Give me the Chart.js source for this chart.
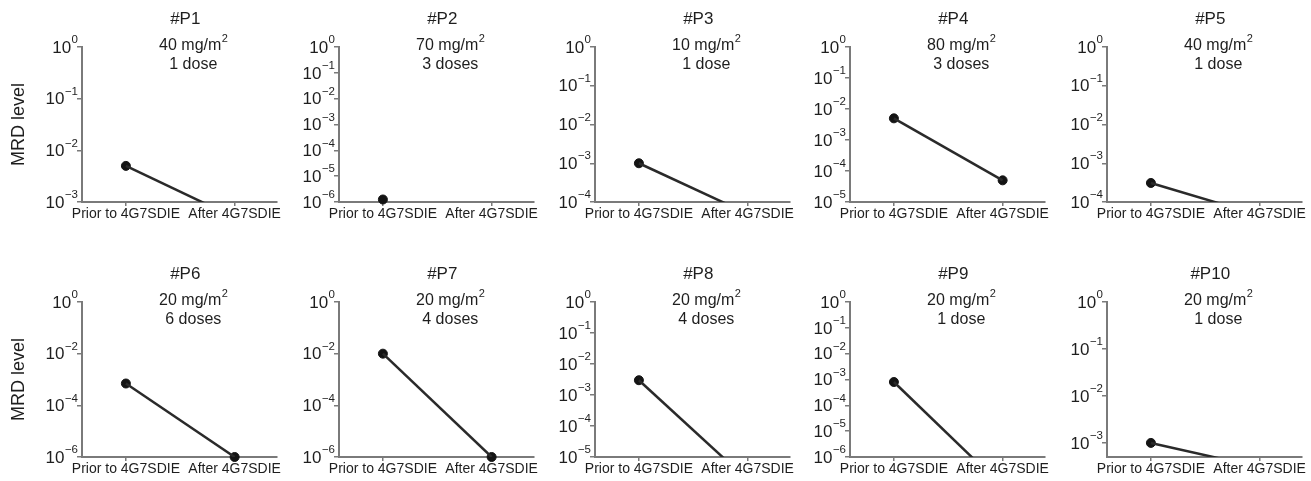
<!DOCTYPE html>
<html>
<head>
<meta charset="utf-8">
<script src="https://cdn.jsdelivr.net/npm/chart.js@4"></script>
<style>
  html, body { margin: 0; padding: 0; background: #fff; }
  #wrap { position: relative; width: 1311px; height: 481px; overflow: hidden; }
  #wrap canvas { position: absolute; }
</style>
</head>
<body>
<div id="wrap"></div>
<script>
// patients and doses
const PATIENTS = ['#P1', '#P2', '#P3', '#P4', '#P5', '#P6', '#P7', '#P8', '#P9', '#P10'];
const DOSE_MG = [40, 70, 10, 80, 40, 20, 20, 20, 20, 20];
const DOSE_COUNT = ['1 dose', '3 doses', '1 dose', '3 doses', '1 dose', '6 doses', '4 doses', '4 doses', '1 dose', '1 dose'];
const TIMEPOINTS = ['Prior to 4G7SDIE', 'After 4G7SDIE'];

// MRD levels (values below the axis are only seen as a clipped line)
const MRD_PRIOR = [5e-3, 1.25e-6, 1e-3, 5e-3, 3.1e-4, 7e-4, 1e-2, 3e-3, 8e-4, 1e-3];
const MRD_AFTER = [5e-4, null, 5e-5, 5e-5, 4.5e-5, 1e-6, 1e-6, 1.8e-6, 7e-8, 3e-4];

// y axis range per panel: 10^minExp .. 10^0, tick every step decades
const Y_MIN_EXP = [-3, -6, -4, -5, -4, -6, -6, -5, -6, -3.3];
const Y_TICK_STEP = [1, 1, 1, 1, 1, 2, 2, 1, 1, 1];

// layout
const AXIS_X = [82, 339, 595, 850, 1107];
const PLOT_TOP = [47, 302];
const PLOT_BOTTOM = [202, 457];
const YW = 80, PT = 45, XH = 30, PW = 195, PR = 5;
const FONT = '"Liberation Sans", Arial, Helvetica, sans-serif';
const TEXT = '#1e1e1e';
const AXIS = '#7a7a7a';

// draws 10^n tick labels with a raised exponent
const powerLabels = {
  id: 'powerLabels',
  afterDraw(chart) {
    const ys = chart.scales.y;
    const ctx = chart.ctx;
    const right = ys.right - 4;
    ctx.save();
    ctx.fillStyle = TEXT;
    ctx.textBaseline = 'middle';
    ys.ticks.forEach(t => {
      const e = Math.round(Math.log10(t.value));
      const y = ys.getPixelForValue(t.value);
      const expStr = e === 0 ? '0' : '\u2212' + Math.abs(e);
      ctx.font = '11.5px ' + FONT;
      const ew = ctx.measureText(expStr).width;
      ctx.textAlign = 'right';
      ctx.fillText(expStr, right, y - 7);
      ctx.font = '17px ' + FONT;
      ctx.fillText('10', right - ew - 0.5, y + 1);
    });
    ctx.restore();
  }
};

// patient id + dose text above each panel
const panelText = {
  id: 'panelText',
  afterDraw(chart, args, opts) {
    const xs = chart.scales.x;
    const top = chart.chartArea.top;
    const mid = xs.getPixelForValue(0.5);
    const ctx = chart.ctx;
    ctx.save();
    ctx.fillStyle = TEXT;
    ctx.textBaseline = 'middle';
    ctx.textAlign = 'center';
    ctx.font = '17px ' + FONT;
    ctx.fillText(opts.title, mid + 5, top - 28);
    ctx.font = '16px ' + FONT;
    const base = opts.mg + ' mg/m';
    const bw = ctx.measureText(base).width;
    ctx.font = '11px ' + FONT;
    const sw = ctx.measureText('2').width;
    const x0 = mid + 13 - (bw + sw) / 2;
    ctx.textAlign = 'left';
    ctx.font = '16px ' + FONT;
    ctx.fillText(base, x0, top - 1);
    ctx.font = '11px ' + FONT;
    ctx.fillText('2', x0 + bw + 0.5, top - 8);
    ctx.textAlign = 'center';
    ctx.font = '16px ' + FONT;
    ctx.fillText(opts.count, mid + 13, top + 18);
    ctx.restore();
  }
};

const wrap = document.getElementById('wrap');

PATIENTS.forEach((name, i) => {
  const row = Math.floor(i / 5), col = i % 5;
  const plotH = PLOT_BOTTOM[row] - PLOT_TOP[row];
  const cv = document.createElement('canvas');
  cv.width = YW + PW + PR;
  cv.height = PT + plotH + XH;
  cv.style.left = (AXIS_X[col] - YW) + 'px';
  cv.style.top = (PLOT_TOP[row] - PT) + 'px';
  wrap.appendChild(cv);

  const yMin = Math.pow(10, Y_MIN_EXP[i]);
  const exps = [];
  for (let e = 0; e >= Math.ceil(Y_MIN_EXP[i] - 1e-9); e -= Y_TICK_STEP[i]) exps.push(e);

  const vals = [MRD_PRIOR[i], MRD_AFTER[i]];
  const lineData = vals.map((v, k) => ({ x: k, y: v }));
  const pointData = vals.map((v, k) => ({ x: k, y: (v !== null && v >= yMin * 0.999) ? v : null }));

  new Chart(cv.getContext('2d'), {
    type: 'line',
    data: {
      datasets: [
        {
          data: lineData,
          borderColor: '#2a2a2a',
          borderWidth: 2.5,
          pointRadius: 0,
          spanGaps: false
        },
        {
          data: pointData,
          showLine: false,
          pointRadius: 4.5,
          pointBackgroundColor: '#141414',
          pointBorderColor: '#141414',
          clip: false
        }
      ]
    },
    options: {
      responsive: false,
      animation: false,
      layout: { padding: { top: PT, right: PR, left: 0, bottom: 0 } },
      plugins: {
        legend: { display: false },
        tooltip: { enabled: false },
        panelText: { title: name, mg: DOSE_MG[i], count: DOSE_COUNT[i] }
      },
      scales: {
        x: {
          type: 'linear',
          min: -0.4037,
          max: 1.385,
          afterBuildTicks: s => { s.ticks = [{ value: 0 }, { value: 1 }]; },
          afterFit: s => { s.height = XH; s.paddingLeft = 0; s.paddingRight = 0; },
          ticks: {
            callback: v => TIMEPOINTS[v],
            font: { family: FONT, size: 14, lineHeight: 1 },
            color: TEXT,
            padding: 1,
            maxRotation: 0,
            autoSkip: false
          },
          grid: { drawOnChartArea: false, tickLength: 4, color: AXIS, lineWidth: 1.5 },
          border: { color: AXIS, width: 2 }
        },
        y: {
          type: 'logarithmic',
          min: yMin,
          max: 1,
          afterBuildTicks: s => { s.ticks = exps.map(e => ({ value: Math.pow(10, e) })); },
          afterFit: s => { s.width = YW; s.paddingTop = 0; s.paddingBottom = 0; },
          ticks: { display: false },
          grid: { drawOnChartArea: false, tickLength: 5, color: AXIS, lineWidth: 1.5 },
          border: { color: AXIS, width: 2 },
          title: {
            display: col === 0,
            text: 'MRD level',
            font: { family: FONT, size: 18 },
            color: TEXT,
            padding: { top: 6, bottom: 0 }
          }
        }
      }
    },
    plugins: [powerLabels, panelText]
  });
});
</script>
</body>
</html>
